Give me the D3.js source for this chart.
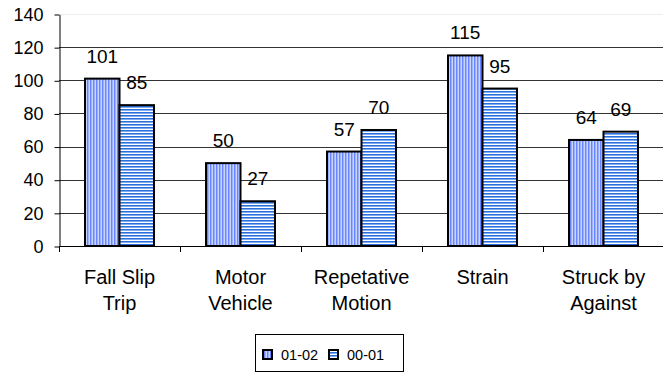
<!DOCTYPE html>
<html>
<head>
<meta charset="utf-8">
<script src="https://cdn.jsdelivr.net/npm/d3@7"></script>
<style>
  html, body { margin: 0; padding: 0; background: #fff; }
  svg { display: block; }
  text { font-family: "Liberation Sans", Arial, sans-serif; fill: #000; }
</style>
</head>
<body>
<svg id="chart" width="663" height="374"></svg>
<script>
// Injury counts by cause, two fiscal years
const categories = [["Fall Slip", "Trip"], ["Motor", "Vehicle"], ["Repetative", "Motion"], ["Strain"], ["Struck by", "Against"]];
const seriesNames = ["01-02", "00-01"];
const values0102 = [101, 50, 57, 115, 64];
const values0001 = [85, 27, 70, 95, 69];
const yTicks = [0, 20, 40, 60, 80, 100, 120, 140];

const svg = d3.select("#chart");
const plotLeft = 59, plotRight = 664, plotTop = 14, plotBottom = 246;

// Fill patterns: vertical stripes for 01-02, horizontal stripes for 00-01
const defs = svg.append("defs");
const pv = defs.append("pattern").attr("id", "pv").attr("patternUnits", "userSpaceOnUse")
  .attr("width", 3).attr("height", 3);
pv.append("rect").attr("width", 3).attr("height", 3).attr("fill", "#c9d6ff");
pv.append("rect").attr("x", 0).attr("width", 1).attr("height", 3).attr("fill", "#6a84ff");
pv.append("rect").attr("x", 1).attr("width", 1).attr("height", 3).attr("fill", "#9db2ff");
const ph = defs.append("pattern").attr("id", "ph").attr("patternUnits", "userSpaceOnUse")
  .attr("width", 3).attr("height", 3);
ph.append("rect").attr("width", 3).attr("height", 3).attr("fill", "#ffffff");
ph.append("rect").attr("y", 1).attr("width", 3).attr("height", 1).attr("fill", "#2a6fdb");
ph.append("rect").attr("y", 2).attr("width", 3).attr("height", 1).attr("fill", "#7eaaf0");
const fills = ["url(#pv)", "url(#ph)"];

const keys = categories.map(c => c.join(" "));
const x = d3.scaleBand().domain(keys).range([plotLeft, plotRight]).paddingInner(0.43).paddingOuter(0.215);
const xs = d3.scaleBand().domain(seriesNames).range([0, x.bandwidth()]);
const y = d3.scaleLinear().domain([0, 140]).range([plotBottom, plotTop]);

// Gridlines
svg.append("g").selectAll("line").data(yTicks.filter(t => t > 0)).join("line")
  .attr("x1", plotLeft).attr("x2", plotRight)
  .attr("y1", d => Math.round(y(d)) + 0.5).attr("y2", d => Math.round(y(d)) + 0.5)
  .attr("stroke", d => d === 140 ? "#eeeeee" : "#333").attr("stroke-width", 1);

// Y axis
const yAxis = svg.append("g").attr("transform", `translate(${plotLeft + 0.5},0.5)`)
  .call(d3.axisLeft(y).tickValues(yTicks).tickSize(5).tickPadding(11).tickSizeOuter(0));
yAxis.select(".domain").attr("stroke", "#000");
yAxis.selectAll(".tick line").attr("stroke", "#000");
yAxis.selectAll(".tick text").attr("font-size", 18).attr("font-family", "Liberation Sans, Arial, sans-serif")
  .attr("fill", "#000");

// X axis with category tick marks at band boundaries
svg.append("line").attr("x1", plotLeft).attr("x2", plotRight)
  .attr("y1", plotBottom + 0.5).attr("y2", plotBottom + 0.5).attr("stroke", "#000");
const bounds = keys.map(k => x(k) - x.step() * 0.215).concat([plotRight]);
svg.append("g").selectAll("line").data(bounds).join("line")
  .attr("x1", d => Math.round(d) + 0.5).attr("x2", d => Math.round(d) + 0.5)
  .attr("y1", plotBottom).attr("y2", plotBottom + 6).attr("stroke", "#000");

// Category labels (two lines)
const catG = svg.append("g");
categories.forEach((lines, i) => {
  const cx = x(keys[i]) + x.bandwidth() / 2;
  const t = catG.append("text").attr("text-anchor", "middle").attr("font-size", 20);
  lines.forEach((ln, j) => {
    t.append("tspan").attr("x", cx).attr("y", 284 + j * 26).text(ln);
  });
});

// Bars
const series = [values0102, values0001];
series.forEach((vals, s) => {
  const g = svg.append("g");
  g.selectAll("rect").data(vals).join("rect")
    .attr("x", (d, i) => x(keys[i]) + xs(seriesNames[s]))
    .attr("y", d => y(d))
    .attr("width", xs.bandwidth())
    .attr("height", d => y(0) - y(d))
    .attr("fill", fills[s])
    .attr("stroke", "#000").attr("stroke-width", 2);
  g.selectAll("text").data(vals).join("text")
    .attr("x", (d, i) => x(keys[i]) + xs(seriesNames[s]) + xs.bandwidth() / 2)
    .attr("y", d => y(d) - 16)
    .attr("text-anchor", "middle").attr("font-size", 19)
    .text(d => d);
});

// Legend
const lg = svg.append("g");
lg.append("rect").attr("x", 255.5).attr("y", 334.5).attr("width", 148).attr("height", 37)
  .attr("fill", "#fff").attr("stroke", "#000");
const legX = [263, 329];
seriesNames.forEach((n, i) => {
  lg.append("rect").attr("x", legX[i]).attr("y", 350).attr("width", 9).attr("height", 9)
    .attr("fill", fills[i]).attr("stroke", "#000").attr("stroke-width", 2);
  lg.append("text").attr("x", legX[i] + 18).attr("y", 360).attr("font-size", 14.5).text(n);
});
</script>
</body>
</html>
